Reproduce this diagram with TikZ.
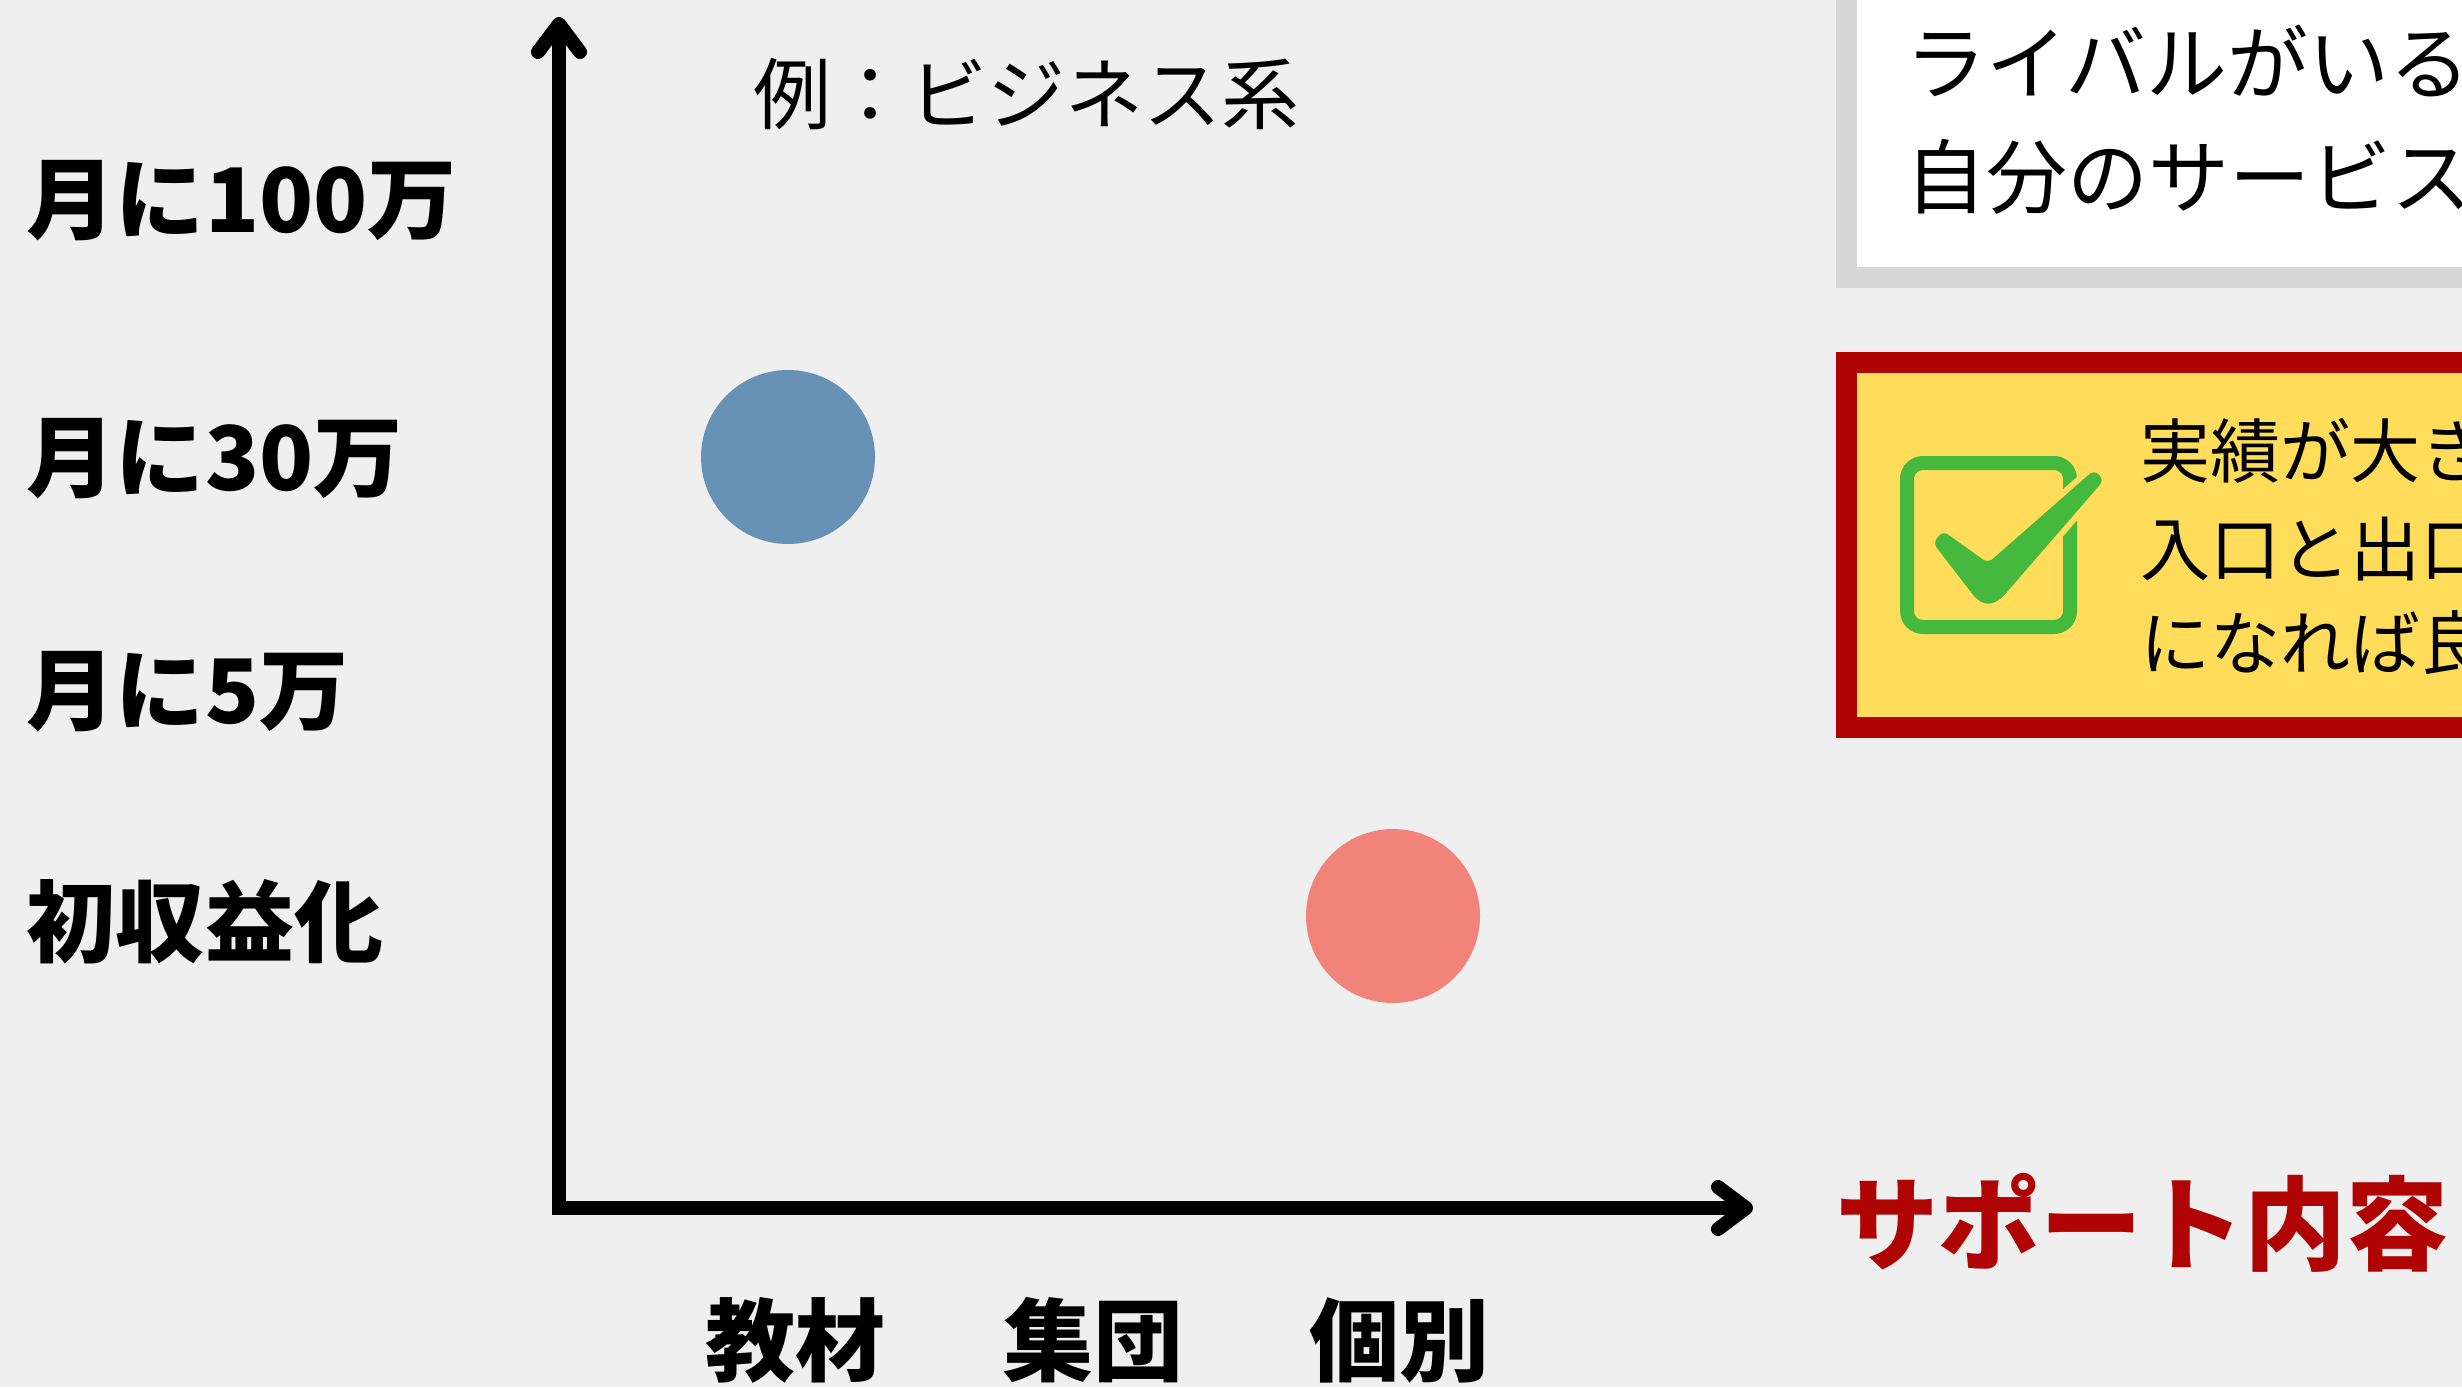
\documentclass[tikz,border=0pt]{standalone}
\usepackage{fontspec}
\setmainfont{Noto Sans CJK JP}
\usetikzlibrary{calc}
\definecolor{bgc}{HTML}{EFEFEF}
\definecolor{axisc}{HTML}{000000}
\definecolor{bluedot}{HTML}{6891B6}
\definecolor{reddot}{HTML}{F2837B}
\definecolor{boxgray}{HTML}{D6D6D6}
\definecolor{darkred}{HTML}{B00404}
\definecolor{yellowc}{HTML}{FFDD5B}
\definecolor{checkg}{HTML}{45B83E}
\tikzset{
  lbl/.style={inner sep=0pt, outer sep=0pt, anchor=base west},
  ylbl/.style={lbl, font=\fontsize{89}{100}\selectfont\bfseries},
  xlbl/.style={inner sep=0pt, anchor=base, font=\fontsize{90}{100}\selectfont\bfseries},
  axisline/.style={line width=14pt, draw=axisc},
  headline/.style={line width=14pt, draw=axisc, line cap=round, line join=round},
  dot/.style={circle, minimum size=174pt, inner sep=0pt},
}
\begin{document}
\begin{tikzpicture}[x=1pt,y=-1pt]
\useasboundingbox (0,0) rectangle (2462,1387);
\clip (0,0) rectangle (2462,1387);
\fill[bgc] (0,0) rectangle (2462,1387);

% axes
\coordinate (origin) at (559,1208);
\coordinate (ytip) at (559,24);
\coordinate (xtip) at (1746,1208);
\draw[axisline, line join=miter] (ytip) -- (origin) -- (xtip);
\draw[headline] ($(ytip)+(-21,28)$) -- (ytip) -- ($(ytip)+(21,28)$);
\draw[headline] ($(xtip)+(-28,-21)$) -- (xtip) -- ($(xtip)+(-28,21)$);

% y labels
\node[ylbl] (y100) at (27,232) {月に100万};
\node[ylbl] (y30) at (27,490) {月に30万};
\node[ylbl] (y5) at (27,723) {月に5万};
\node[ylbl] (y0) at (27,955) {初収益化};

% example label
\node[lbl, font=\fontsize{78}{90}\selectfont] (ex) at (753,123) {例：ビジネス系};

% x labels
\node[xlbl] (x1) at (795,1374) {教材};
\node[xlbl] (x2) at (1093,1374) {集団};
\node[xlbl] (x3) at (1399,1374) {個別};

% x axis title
\node[lbl, font=\fontsize{102}{110}\selectfont\bfseries, text=darkred] (xt) at (1836,1262) {サポート内容};

% dots
\node[dot, fill=bluedot] (bdot) at (788,457) {};
\node[dot, fill=reddot] (rdot) at (1393,916) {};

% top-right grey box
\filldraw[fill=white, draw=boxgray, line width=21pt] (1846,-40) rectangle (2500,277);
\node[lbl, font=\fontsize{81}{90}\selectfont] (g1) at (1905,93) {ライバルがいる};
\node[lbl, font=\fontsize{81}{90}\selectfont] (g2) at (1905,207) {自分のサービス};

% yellow box
\filldraw[fill=yellowc, draw=darkred, line width=21pt] (1846,362) rectangle (2500,727);
\draw[checkg, line width=14pt, rounded corners=16pt] (1907,463) rectangle (2070,627);
\path[draw=yellowc, line width=12pt, line join=round, rounded corners=6pt]
  (1943,531) -- (1988,563) -- (2094,470) -- (2104,480) -- (2000,600) -- (1988,605) -- (1977,600) -- (1933,543) -- cycle;
\path[fill=checkg, rounded corners=6pt]
  (1943,531) -- (1988,563) -- (2094,470) -- (2104,480) -- (2000,600) -- (1988,605) -- (1977,600) -- (1933,543) -- cycle;
\node[lbl, font=\fontsize{70}{80}\selectfont] (t1) at (2140,477) {実績が大き};
\node[lbl, font=\fontsize{70}{80}\selectfont] (t2) at (2140,575) {入口と出口};
\node[lbl, font=\fontsize{70}{80}\selectfont] (t3) at (2140,669) {になれば良};
\end{tikzpicture}
\end{document}
